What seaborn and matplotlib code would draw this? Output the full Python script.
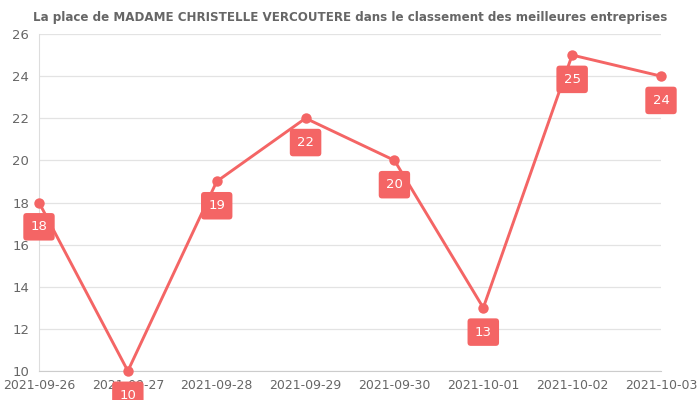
import numpy as np
import pandas as pd
import matplotlib
matplotlib.use("Agg")
import matplotlib.pyplot as plt
import seaborn as sns

# data
dates = ["2021-09-26", "2021-09-27", "2021-09-28", "2021-09-29",
         "2021-09-30", "2021-10-01", "2021-10-02", "2021-10-03"]
places = [18, 10, 19, 22, 20, 13, 25, 24]
y_ticks = [10, 12, 14, 16, 18, 20, 22, 24, 26]
title = "La place de MADAME CHRISTELLE VERCOUTERE dans le classement des meilleures entreprises"

red = "#f46565"
grey = "#666666"

sns.set_style("white")
plt.rcParams["font.family"] = ["DejaVu Sans"]

df = pd.DataFrame({"date": dates, "place": places})
df["x"] = np.arange(len(df))

fig = plt.figure(figsize=(7, 4), dpi=100)
ax = fig.add_axes([39 / 700, 29 / 400, 622 / 700, 337 / 400])

sns.lineplot(data=df, x="x", y="place", ax=ax, color=red, linewidth=2.1,
             marker="o", markersize=7.5, markeredgewidth=0, clip_on=False, zorder=3)

# value labels in rounded boxes under each point
for xi, yi in zip(df["x"], df["place"]):
    ax.annotate(str(yi), (xi, yi), xytext=(0, -17.5), textcoords="offset points",
                ha="center", va="center", color="white", fontsize=9.5,
                bbox=dict(boxstyle="round,pad=0.55,rounding_size=0.25",
                          fc=red, ec="none"),
                annotation_clip=False, zorder=4)

ax.set_xlim(0, len(df) - 1)
ax.set_ylim(10, 26)
ax.set_yticks(y_ticks)
ax.set_xticks(df["x"])
ax.set_xticklabels(dates)
ax.set_xlabel("")
ax.set_ylabel("")
ax.grid(axis="y", color="#e3e3e3", linewidth=0.9)
ax.set_axisbelow(True)
for side in ["top", "right"]:
    ax.spines[side].set_visible(False)
ax.spines["left"].set_color("#dddddd")
ax.spines["bottom"].set_color("#cccccc")
ax.tick_params(axis="y", length=5, color="#dddddd", labelcolor=grey, labelsize=9.5, pad=2)
ax.tick_params(axis="x", length=0, labelcolor=grey, labelsize=9, pad=6)

fig.text(350 / 700, 1 - 17 / 400, title, ha="center", va="center",
         fontsize=8.6, fontweight="bold", color=grey)

fig.savefig("out.png", dpi=100)
